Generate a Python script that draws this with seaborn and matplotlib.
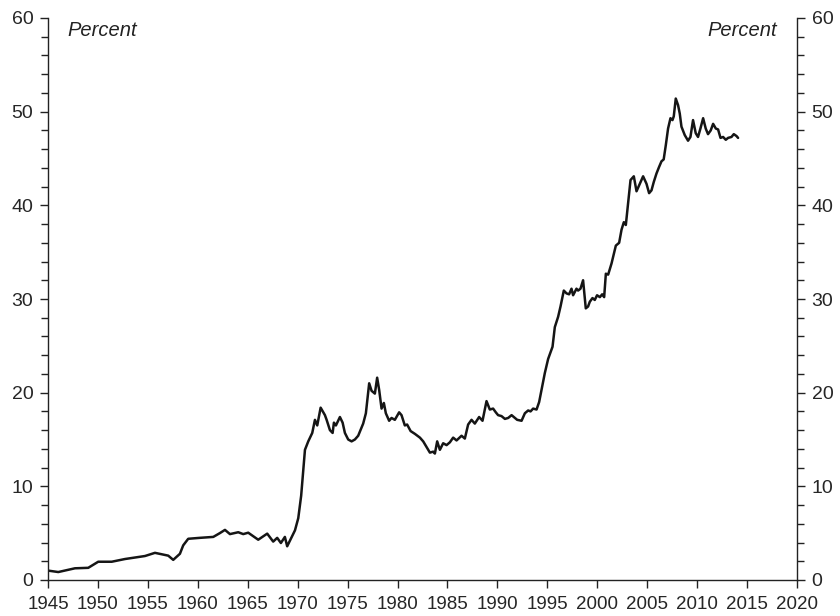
import matplotlib
matplotlib.use("Agg")
import matplotlib.pyplot as plt
from matplotlib.ticker import MultipleLocator
import seaborn as sns
import pandas as pd

years = [
    1945.03, 1946.03, 1947.70, 1949.03, 1950.03, 1951.38, 1952.71, 1954.71, 1955.71, 1957.04,
    1957.54, 1958.21, 1958.54, 1959.04, 1960.20, 1961.55, 1962.20, 1962.72, 1963.22, 1964.05,
    1964.55, 1965.05, 1966.05, 1966.95, 1967.55, 1967.95, 1968.32, 1968.72, 1968.95, 1969.73,
    1970.06, 1970.35, 1970.73, 1971.06, 1971.46, 1971.73, 1971.96, 1972.30, 1972.73, 1972.90,
    1973.23, 1973.50, 1973.63, 1973.83, 1974.23, 1974.50, 1974.73, 1975.06, 1975.40, 1975.73,
    1976.06, 1976.56, 1976.83, 1977.16, 1977.40, 1977.73, 1977.96, 1978.16, 1978.40, 1978.63,
    1978.83, 1979.16, 1979.40, 1979.73, 1980.16, 1980.40, 1980.73, 1980.96, 1981.31, 1981.74,
    1982.24, 1982.57, 1982.91, 1983.24, 1983.57, 1983.74, 1983.97, 1984.24, 1984.57, 1984.91,
    1985.24, 1985.57, 1985.91, 1986.41, 1986.74, 1987.07, 1987.41, 1987.74, 1988.17, 1988.51,
    1988.91, 1989.24, 1989.57, 1989.84, 1990.07, 1990.41, 1990.75, 1991.08, 1991.42, 1991.75,
    1991.98, 1992.42, 1992.75, 1993.08, 1993.32, 1993.58, 1993.92, 1994.18, 1994.42, 1994.75,
    1995.08, 1995.52, 1995.75, 1996.08, 1996.32, 1996.65, 1996.92, 1997.18, 1997.42, 1997.58,
    1997.92, 1998.08, 1998.32, 1998.58, 1998.85, 1999.08, 1999.25, 1999.52, 1999.75, 1999.98,
    2000.26, 2000.49, 2000.69, 2000.86, 2001.09, 2001.43, 2001.86, 2002.19, 2002.43, 2002.66,
    2002.86, 2003.09, 2003.33, 2003.66, 2003.93, 2004.26, 2004.59, 2004.93, 2005.19, 2005.43,
    2005.66, 2005.93, 2006.19, 2006.43, 2006.65, 2006.86, 2007.09, 2007.33, 2007.53, 2007.66,
    2007.86, 2008.09, 2008.26, 2008.43, 2008.76, 2009.09, 2009.33, 2009.59, 2009.86, 2010.09,
    2010.33, 2010.60, 2010.86, 2011.09, 2011.36, 2011.60, 2011.87, 2012.10, 2012.34, 2012.60,
    2012.87, 2013.10, 2013.44, 2013.67, 2013.94, 2014.10,
]
percent = [
    1.0, 0.85, 1.25, 1.3, 1.95, 1.95, 2.24, 2.56, 2.9, 2.6,
    2.15, 2.8, 3.7, 4.4, 4.5, 4.6, 5.0, 5.35, 4.9, 5.1,
    4.9, 5.05, 4.3, 4.95, 4.1, 4.5, 3.95, 4.6, 3.6, 5.3,
    6.6, 9.0, 13.9, 14.8, 15.7, 17.1, 16.5, 18.4, 17.6, 17.1,
    16.0, 15.7, 16.8, 16.5, 17.4, 16.8, 15.7, 15.0, 14.8, 15.0,
    15.4, 16.7, 17.8, 21.0, 20.2, 19.9, 21.6, 20.3, 18.3, 18.9,
    17.8, 17.0, 17.3, 17.1, 17.9, 17.6, 16.5, 16.6, 15.9, 15.6,
    15.2, 14.8, 14.2, 13.6, 13.7, 13.5, 14.8, 13.9, 14.6, 14.4,
    14.7, 15.2, 14.9, 15.4, 15.1, 16.6, 17.1, 16.7, 17.4, 17.0,
    19.1, 18.2, 18.3, 17.9, 17.6, 17.5, 17.2, 17.3, 17.6, 17.3,
    17.1, 17.0, 17.8, 18.1, 18.0, 18.3, 18.2, 19.0, 20.3, 22.1,
    23.6, 24.9, 27.0, 28.1, 29.2, 30.9, 30.6, 30.5, 31.1, 30.4,
    31.1, 30.9, 31.1, 32.0, 29.0, 29.2, 29.7, 30.1, 29.9, 30.4,
    30.2, 30.5, 30.2, 32.7, 32.6, 33.8, 35.7, 36.0, 37.4, 38.2,
    37.9, 40.2, 42.7, 43.1, 41.5, 42.3, 43.1, 42.3, 41.3, 41.6,
    42.5, 43.4, 44.1, 44.7, 44.9, 46.4, 48.2, 49.3, 49.1, 49.5,
    51.4, 50.7, 49.8, 48.4, 47.5, 46.9, 47.3, 49.1, 47.7, 47.3,
    48.2, 49.3, 48.2, 47.6, 48.0, 48.7, 48.2, 48.1, 47.2, 47.3,
    47.0, 47.2, 47.3, 47.6, 47.4, 47.2,
]
x_ticks = list(range(1945, 2021, 5))
y_ticks = [0, 10, 20, 30, 40, 50, 60]
unit_label = "Percent"

df = pd.DataFrame({"year": years, "percent": percent})

sns.set_style("ticks")
plt.rcParams["font.family"] = ["Liberation Sans", "DejaVu Sans"]

fig = plt.figure(figsize=(8.4, 6.16), dpi=100)
ax = fig.add_axes([48 / 840, 36 / 616, (797 - 48) / 840, (580 - 18) / 616])

sns.lineplot(data=df, x="year", y="percent", ax=ax, color="#151515",
             linewidth=1.8, sort=False, estimator=None)

ax.set_xlim(1945, 2020)
ax.set_ylim(0, 60)
ax.set_xticks(x_ticks)
ax.set_yticks(y_ticks)
ax.yaxis.set_minor_locator(MultipleLocator(2))
ax.set_xlabel("")
ax.set_ylabel("")

for side in ["left", "right", "bottom"]:
    ax.spines[side].set_visible(True)
    ax.spines[side].set_linewidth(1.0)
    ax.spines[side].set_color("#222222")
ax.spines["top"].set_visible(False)

ax.tick_params(axis="y", which="both", left=True, right=True,
               labelleft=True, labelright=True, direction="out", color="#222222")
ax.tick_params(axis="y", which="major", length=5.5, width=1.0, pad=5, labelsize=14)
ax.tick_params(axis="y", which="minor", length=5.0, width=1.0)
ax.tick_params(axis="x", which="major", length=5.5, width=1.0, pad=6, labelsize=13.5,
               direction="out", color="#222222")
ax.tick_params(axis="x", which="minor", bottom=False)

ax.text(1946.97, 58.7, unit_label, ha="left", va="center", fontsize=14.5,
        fontstyle="italic", color="#222222")
ax.text(2018.0, 58.7, unit_label, ha="right", va="center", fontsize=14.5,
        fontstyle="italic", color="#222222")

fig.savefig("out.png", dpi=100)
